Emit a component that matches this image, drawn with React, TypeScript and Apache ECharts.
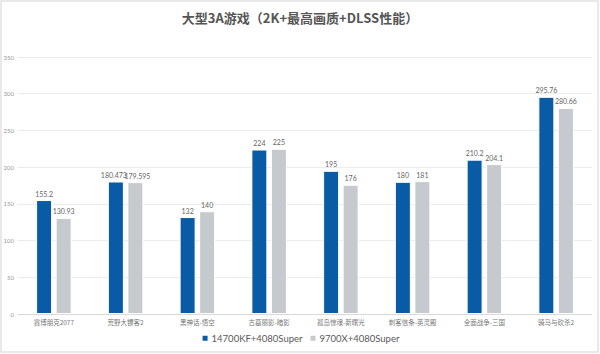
import React, { useEffect, useRef } from "react";
import * as echarts from "echarts";

const title = "大型3A游戏（2K+最高画质+DLSS性能）";
const categories = [
  "赛博朋克2077",
  "荒野大镖客2",
  "黑神话-悟空",
  "古墓丽影-暗影",
  "孤岛惊魂-新曙光",
  "刺客信条-英灵殿",
  "全面战争-三国",
  "骑马与砍杀2",
];
const seriesNames = ["14700KF+4080Super", "9700X+4080Super"];
const intelValues = [155.2, 180.473, 132, 224, 195, 180, 210.2, 295.76];
const amdValues = [130.93, 179.595, 140, 225, 176, 181, 204.1, 280.66];
const colors = ["#0a5ba5", "#c6c9cd"];

export default function App() {
  const ref = useRef<HTMLDivElement>(null);
  useEffect(() => {
    if (!ref.current) return;
    const chart = echarts.init(ref.current, null, { renderer: "svg" });
    const font = "Lato, 'Noto Sans CJK SC', sans-serif";
    const mkSeries = (name: string, data: number[], color: string, nudge: number) => ({
      name,
      type: "bar",
      data: data.map((v, i) =>
        i === 1 ? { value: v, label: { offset: [nudge, 0] } } : v
      ),
      barWidth: 16,
      barGap: "22%",
      itemStyle: { color, borderColor: "#ffffff", borderWidth: 1 },
      label: {
        show: true,
        position: "top",
        distance: 3,
        fontSize: 7,
        color: "#666",
        fontFamily: font,
      },
    });
    chart.setOption({
      animation: false,
      backgroundColor: "#ffffff",
      textStyle: { fontFamily: font },
      title: {
        text: title,
        left: "center",
        top: 6,
        textStyle: { fontSize: 13, fontWeight: "bold", color: "#555", fontFamily: "'Noto Sans CJK SC', sans-serif" },
      },
      graphic: [
        {
          type: "rect",
          shape: { x: 1, y: 1, width: 597, height: 351 },
          style: { fill: "none", stroke: "#e2e2e2", lineWidth: 1.5 },
          silent: true,
        },
      ],
      legend: {
        bottom: 6,
        left: "center",
        itemWidth: 7,
        itemHeight: 7,
        itemGap: 6,
        icon: "rect",
        textStyle: { fontSize: 9.5, color: "#595959", fontFamily: font, padding: [0, 0, 0, -2] },
        data: seriesNames,
      },
      grid: { left: 18, right: 8, top: 57, bottom: 40, containLabel: false },
      xAxis: {
        type: "category",
        data: categories,
        axisLine: { lineStyle: { color: "#d9d9d9" } },
        axisTick: { show: false },
        axisLabel: { interval: 0, fontSize: 6.5, color: "#777", margin: 5, fontFamily: "'Noto Sans CJK SC', sans-serif" },
      },
      yAxis: {
        type: "value",
        min: 0,
        max: 350,
        interval: 50,
        axisLine: { show: false },
        axisTick: { show: false },
        axisLabel: { fontSize: 6, color: "#999", margin: 4, fontFamily: font },
        splitLine: { lineStyle: { color: "#ececec" } },
      },
      series: [
        mkSeries(seriesNames[0], intelValues, colors[0], -2),
        mkSeries(seriesNames[1], amdValues, colors[1], 2),
      ],
    });
    return () => chart.dispose();
  }, []);
  return <div ref={ref} style={{ width: 600, height: 354, position: "fixed", left: 0, top: 0 }} />;
}
